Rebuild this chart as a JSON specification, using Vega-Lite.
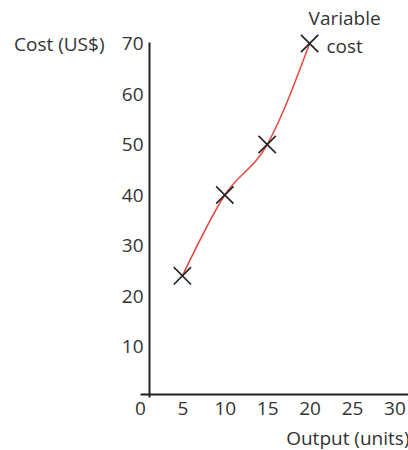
{
  "$schema": "https://vega.github.io/schema/vega-lite/v6.json",
  "autosize": "none",
  "width": 268,
  "height": 355,
  "padding": {"left": 140, "top": 42, "right": 0, "bottom": 53},
  "background": "white",
  "config": {
    "view": {"stroke": null},
    "font": "Open Sans",
    "axis": {
      "grid": false,
      "ticks": false,
      "domainColor": "#222222",
      "domainWidth": 2,
      "labelFont": "Open Sans",
      "labelFontSize": 19,
      "labelColor": "#333333",
      "labelFlush": false,
      "titleFont": "Open Sans",
      "titleFontSize": 19,
      "titleFontWeight": "normal",
      "titleColor": "#333333"
    }
  },
  "data": {
    "values": [
      {"output": 5, "cost": 24},
      {"output": 10, "cost": 40},
      {"output": 15, "cost": 50},
      {"output": 20, "cost": 70}
    ]
  },
  "layer": [
    {
      "mark": {"type": "line", "color": "#e8473f", "strokeWidth": 1.5, "interpolate": "monotone"},
      "encoding": {
        "x": {
          "field": "output",
          "type": "quantitative",
          "scale": {"domain": [0, 31.6], "nice": false, "zero": false},
          "axis": {
            "values": [0, 5, 10, 15, 20, 25, 30],
            "offset": -3,
            "labelPadding": 5,
            "title": "Output (units)",
            "titleAnchor": "end",
            "titleAlign": "right",
            "titleBaseline": "middle",
            "titleX": 269,
            "titleY": 44
          }
        },
        "y": {
          "field": "cost",
          "type": "quantitative",
          "scale": {"domain": [0, 70.3], "nice": false, "zero": false},
          "axis": {
            "values": [10, 20, 30, 40, 50, 60, 70],
            "offset": -9,
            "labelPadding": 6,
            "title": "Cost (US$)",
            "titleAngle": 0,
            "titleAlign": "right",
            "titleBaseline": "middle",
            "titleX": -45,
            "titleY": 2
          }
        }
      }
    },
    {
      "mark": {"type": "point", "shape": "M-1,-1L1,1M1,-1L-1,1", "filled": false, "stroke": "#222222", "strokeWidth": 1.6, "size": 300, "opacity": 1},
      "encoding": {
        "x": {"field": "output", "type": "quantitative"},
        "y": {"field": "cost", "type": "quantitative"}
      }
    },
    {
      "transform": [{"filter": "datum.output == 20"}],
      "mark": {"type": "text", "text": "Variable\ncost", "lineBreak": "\n", "lineHeight": 28, "align": "center", "baseline": "middle", "dx": 35, "dy": -25, "font": "Open Sans", "fontSize": 19, "color": "#333333"},
      "encoding": {
        "x": {"field": "output", "type": "quantitative"},
        "y": {"field": "cost", "type": "quantitative"}
      }
    }
  ]
}
